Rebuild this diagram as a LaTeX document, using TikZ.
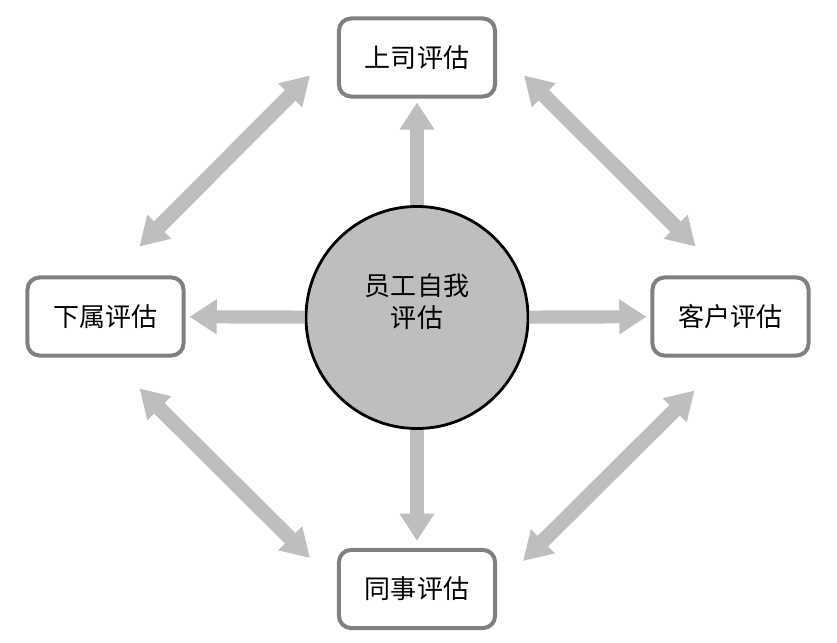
\documentclass[tikz,border=0pt]{standalone}
\usepackage{fontspec}
\newfontfamily\cjk{Noto Sans CJK SC}
\usepackage{xcolor}
\usetikzlibrary{arrows.meta,calc,positioning}
\definecolor{arrgray}{HTML}{BDBEC0}
\definecolor{boxgray}{HTML}{808080}

\begin{document}
\begin{tikzpicture}[x=0.025cm,y=-0.025cm,
  box/.style={draw=boxgray,line width=0.1cm,rounded corners=0.3cm,fill=white,
    minimum width=3.9cm,minimum height=1.95cm,font=\cjk\fontsize{18.5}{23}\selectfont},
  ring/.style={circle,draw=black,line width=0.07cm,fill=arrgray,minimum size=5.55cm},
  arr/.style={arrgray,line width=0.33cm,-{Triangle[width=0.83cm,length=0.68cm]}},
  darr/.style={arrgray,line width=0.37cm,{Triangle[width=0.8cm,length=0.7cm]}-{Triangle[width=0.8cm,length=0.7cm]}}]
\useasboundingbox (0,0) rectangle (837,643);
\node[ring] (c) at (417,317.5) {};
\node[font=\cjk\fontsize{18.5}{22.8}\selectfont,align=center] (ct) at (417,302) {员工自我\\评估};
\node[box] (tp) at (417,57.5) {上司评估};
\node[box] (lb) at (105.5,316.5) {下属评估};
\node[box] (rb) at (730.5,316.5) {客户评估};
\node[box] (bt) at (417,589) {同事评估};
% straight arrows out of the circle
\draw[arr,shorten >=0.1cm] (c) -- (tp);
\draw[arr,shorten >=0.1cm] (c) -- (lb);
\draw[arr,shorten >=0.1cm] (c) -- (rb);
\draw[arr,shorten >=0.18cm] (c) -- (bt);
% double arrows between the boxes
\draw[darr] ($(lb.north)+(34,-29)$) -- ($(tp.west)+(-27,18)$);
\draw[darr] ($(tp.east)+(27,18)$) -- ($(rb.north)+(-35,-29)$);
\draw[darr] ($(lb.south)+(34,31)$) -- ($(bt.west)+(-27,-31)$);
\draw[darr] ($(bt.east)+(26,-28)$) -- ($(rb.south)+(-36,33)$);
\end{tikzpicture}
\end{document}
